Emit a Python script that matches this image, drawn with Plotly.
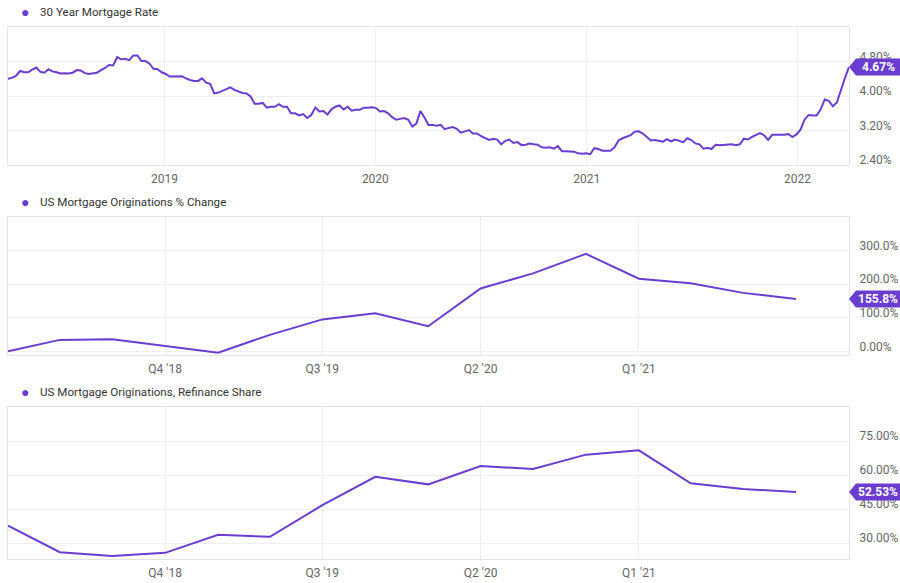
import pandas as pd
import plotly.graph_objects as go

# 30 year mortgage rate, weekly, Apr 2018 - Mar 2022
rate_2018 = [4.40, 4.42, 4.47, 4.58, 4.55, 4.55, 4.61, 4.66, 4.56, 4.54, 4.62, 4.57, 4.55,
             4.52, 4.53, 4.52, 4.54, 4.60, 4.59, 4.53, 4.51, 4.52, 4.54, 4.60, 4.65, 4.72,
             4.71, 4.90, 4.85, 4.86, 4.83, 4.94, 4.94, 4.81, 4.81, 4.75, 4.63, 4.62, 4.55]
rate_2019 = [4.51, 4.45, 4.45, 4.45, 4.46, 4.41, 4.37, 4.35, 4.35, 4.41, 4.31, 4.28, 4.06,
             4.08, 4.12, 4.17, 4.20, 4.14, 4.10, 4.07, 4.06, 3.99, 3.82, 3.82, 3.84, 3.73,
             3.75, 3.75, 3.81, 3.75, 3.75, 3.60, 3.60, 3.55, 3.58, 3.49, 3.56, 3.73, 3.64,
             3.65, 3.57, 3.69, 3.75, 3.78, 3.69, 3.75, 3.66, 3.68, 3.68, 3.73, 3.73, 3.74]
rate_2020 = [3.72, 3.64, 3.65, 3.60, 3.51, 3.45, 3.47, 3.49, 3.45, 3.29, 3.36, 3.65, 3.50,
             3.33, 3.33, 3.31, 3.33, 3.23, 3.26, 3.28, 3.24, 3.15, 3.18, 3.21, 3.13, 3.13,
             3.07, 3.03, 2.98, 3.01, 2.99, 2.88, 2.96, 2.99, 2.91, 2.93, 2.86, 2.87, 2.90,
             2.88, 2.87, 2.81, 2.80, 2.81, 2.78, 2.84, 2.72, 2.72, 2.71, 2.71, 2.67, 2.66, 2.67]
rate_2021 = [2.65, 2.79, 2.77, 2.73, 2.73, 2.73, 2.81, 2.97, 3.02, 3.05, 3.09, 3.17,
             3.18, 3.13, 3.04, 2.97, 2.98, 2.96, 2.94, 3.00, 2.95, 2.99, 2.96, 2.93, 3.02,
             2.98, 2.90, 2.88, 2.78, 2.80, 2.77, 2.87, 2.86, 2.87, 2.87, 2.88, 2.86, 2.88, 3.01,
             2.99, 3.05, 3.09, 3.14, 3.09, 2.98, 3.10, 3.10, 3.11, 3.10, 3.12, 3.05, 3.11]
rate_2022 = [3.22, 3.45, 3.56, 3.55, 3.55, 3.69, 3.92, 3.89, 3.76, 3.85, 4.16, 4.42, 4.67]
rate = rate_2018 + rate_2019 + rate_2020 + rate_2021 + rate_2022
rate_dates = pd.date_range("2018-04-05", periods=len(rate), freq="W-THU")

# quarterly series, Q1 '18 - Q4 '21
quarters = pd.date_range("2018-01-01", periods=16, freq="QS")
orig_change = [0, 34, 36, 17, -4, 49, 95, 113, 74.5, 187, 232, 290, 216, 203, 174, 155.8]
refi_share = [37.7, 26.0, 24.3, 25.7, 33.7, 32.8, 46.7, 59.2, 55.9, 64.0, 62.7, 69.0,
              70.9, 56.4, 53.9, 52.53]

year_ticks = ["2019-01-01", "2020-01-01", "2021-01-01", "2022-01-01"]
year_text = ["2019", "2020", "2021", "2022"]
q_ticks = ["2018-10-01", "2019-07-01", "2020-04-01", "2021-01-01"]
q_text = ["Q4 '18", "Q3 '19", "Q2 '20", "Q1 '21"]

purple = "#6a3dd0"
W, H = 900, 583
x0, x1 = 8 / W, 849 / W

fig = go.Figure()
fig.add_trace(go.Scatter(x=rate_dates, y=rate, mode="lines", xaxis="x", yaxis="y",
                         line=dict(color=purple, width=2)))
fig.add_trace(go.Scatter(x=quarters, y=orig_change, mode="lines", xaxis="x2", yaxis="y2",
                         line=dict(color=purple, width=2)))
fig.add_trace(go.Scatter(x=quarters, y=refi_share, mode="lines", xaxis="x3", yaxis="y3",
                         line=dict(color=purple, width=2)))

axis_style = dict(showline=True, mirror=True, linecolor="#e3e3e3", linewidth=1,
                  gridcolor="#eeeeee", zeroline=False, ticks="", automargin=False,
                  tickfont=dict(size=12, color="#666666", family="Roboto"))
x_style = dict(ticklabelstandoff=3, **axis_style)
y_style = dict(side="right", ticklabelstandoff=7, ticklabelshift=-5, **axis_style)

fig.update_layout(
    width=W, height=H,
    margin=dict(l=0, r=0, t=0, b=0),
    paper_bgcolor="white", plot_bgcolor="white",
    showlegend=False,
    font=dict(family="Roboto"),
    xaxis=dict(domain=[x0, x1], anchor="y", range=["2018-04-05", "2022-03-31"],
               tickvals=year_ticks, ticktext=year_text, **x_style),
    yaxis=dict(domain=[1 - 165 / H, 1 - 27 / H], anchor="x",
               range=[2.40, 5.60], tickvals=[2.4, 3.2, 4.0, 4.8],
               ticktext=["2.40%", "3.20%", "4.00%", "4.80%"], **y_style),
    xaxis2=dict(domain=[x0, x1], anchor="y2", range=["2018-01-01", "2022-01-01"],
                tickvals=q_ticks, ticktext=q_text, **x_style),
    yaxis2=dict(domain=[1 - 355 / H, 1 - 217 / H], anchor="x2",
                range=[-11, 400], tickvals=[0, 100, 200, 300],
                ticktext=["0.00%", "100.0%", "200.0%", "300.0%"], **y_style),
    xaxis3=dict(domain=[x0, x1], anchor="y3", range=["2018-01-01", "2022-01-01"],
                tickvals=q_ticks, ticktext=q_text, **x_style),
    yaxis3=dict(domain=[1 - 559 / H, 1 - 407 / H], anchor="x3",
                range=[23, 90], tickvals=[30, 45, 60, 75],
                ticktext=["30.00%", "45.00%", "60.00%", "75.00%"], **y_style),
)

# series titles with coloured dot
titles = ["30 Year Mortgage Rate", "US Mortgage Originations % Change",
          "US Mortgage Originations, Refinance Share"]
title_y = [12, 202, 392]
for t, ty in zip(titles, title_y):
    fig.add_annotation(x=25 / W, y=1 - ty / H, xref="paper", yref="paper", text="●",
                       showarrow=False, xanchor="center", yanchor="middle",
                       font=dict(size=14, color=purple))
    fig.add_annotation(x=38 / W, y=1 - ty / H, xref="paper", yref="paper", text=t,
                       showarrow=False, xanchor="left", yanchor="middle",
                       font=dict(size=11.6, color="#333333", family="Roboto"))

# last value tags
tags = [("y", rate[-1], "4.67%"), ("y2", orig_change[-1], "155.8%"),
        ("y3", refi_share[-1], "52.53%")]
for yref, val, txt in tags:
    fig.add_shape(type="path", xref="paper", yref=yref, xsizemode="pixel",
                  ysizemode="pixel", xanchor=x1, yanchor=val,
                  path="M 0 0 L 7 8.5 L 60 8.5 L 60 -8.5 L 7 -8.5 Z",
                  fillcolor=purple, line=dict(width=0), layer="above")
    fig.add_annotation(x=878 / W, y=val, xref="paper", yref=yref, text="<b>" + txt + "</b>",
                       showarrow=False, xanchor="center", yanchor="middle",
                       font=dict(size=12, color="white", family="Roboto"))

# the page's default body margin would push the figure off by 8px
fig.write_html("out.html", config={"displayModeBar": False},
               post_script="document.body.style.margin = '0';")
